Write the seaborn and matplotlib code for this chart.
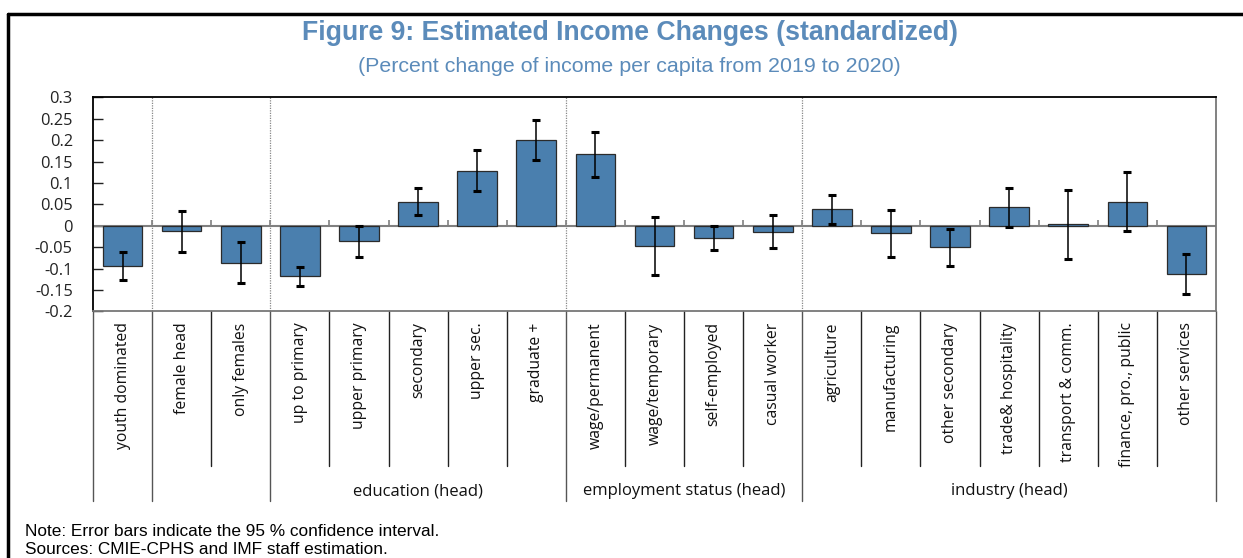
import numpy as np
import pandas as pd
import matplotlib
matplotlib.use("Agg")
import matplotlib.pyplot as plt
import matplotlib.transforms as mtransforms
from matplotlib.lines import Line2D
import seaborn as sns

# ---- data -----------------------------------------------------------------
categories = [
    "youth dominated", "female head", "only females",
    "up to primary", "upper primary", "secondary", "upper sec.", "graduate +",
    "wage/permanent", "wage/temporary", "self-employed", "casual worker",
    "agriculture", "manufacturing", "other secondary", "trade& hospitality",
    "transport & comm.", "finance, pro., public", "other services",
]
estimate = [-0.093, -0.013, -0.086,
            -0.118, -0.036, 0.055, 0.128, 0.201,
            0.167, -0.047, -0.028, -0.014,
            0.038, -0.018, -0.050, 0.043, 0.003, 0.056, -0.113]
ci_low = [-0.127, -0.061, -0.135,
          -0.141, -0.072, 0.026, 0.081, 0.154,
          0.114, -0.115, -0.056, -0.053,
          0.005, -0.072, -0.094, -0.003, -0.078, -0.012, -0.159]
ci_high = [-0.061, 0.035, -0.038,
           -0.096, 0.000, 0.087, 0.176, 0.248,
           0.220, 0.020, 0.000, 0.025,
           0.072, 0.036, -0.007, 0.087, 0.083, 0.125, -0.065]

group_names = ["", "", "education (head)", "employment status (head)", "industry (head)"]
group_sizes = [1, 2, 5, 4, 7]

y_ticks = [-0.2, -0.15, -0.1, -0.05, 0, 0.05, 0.1, 0.15, 0.2, 0.25, 0.3]

title = "Figure 9: Estimated Income Changes (standardized)"
subtitle = "(Percent change of income per capita from 2019 to 2020)"
note_lines = ["Note: Error bars indicate the 95 % confidence interval.",
              "Sources: CMIE-CPHS and IMF staff estimation."]

# ---- styling ----------------------------------------------------------------
sns.set_theme(style="white")
plt.rcParams["font.family"] = ["Open Sans", "DejaVu Sans"]

BAR = "#4a7fae"
TITLE_BLUE = "#5b8bba"
W, H = 1243, 558

df = pd.DataFrame({"category": categories, "estimate": estimate,
                   "low": ci_low, "high": ci_high})
n = len(categories)

fig = plt.figure(figsize=(W / 100, H / 100), dpi=100)
ax = fig.add_axes([93 / W, 1 - 311.3 / H, (1216 - 93) / W, (311.3 - 97.3) / H])

sns.barplot(data=df, x="category", y="estimate", order=categories, color=BAR,
            saturation=1, width=0.67, edgecolor="#2b2b2b", linewidth=0.9,
            errorbar=None, ax=ax, zorder=3)

est = df["estimate"].to_numpy()
yerr = np.vstack([est - df["low"].to_numpy(), df["high"].to_numpy() - est])
ax.errorbar(np.arange(n), est, yerr=yerr, fmt="none", ecolor="black",
            elinewidth=1.1, capsize=3.2, capthick=2.2, zorder=4)

ax.set_xlim(-0.5, n - 0.5)
ax.set_ylim(-0.2, 0.3)
ax.set_yticks(y_ticks)
ax.set_yticklabels([f"{v:g}" for v in y_ticks])
ax.tick_params(axis="y", direction="in", length=7, width=1, pad=14.5,
               labelsize=11.8, colors="#222222", left=True)
ax.set_xticks(range(n))
ax.set_xticklabels(categories, rotation=90, fontsize=11.3, color="#111111")
ax.tick_params(axis="x", length=0, pad=8)
ax.set_xlabel("")
ax.set_ylabel("")

for side in ("top", "left"):
    ax.spines[side].set_color("black")
    ax.spines[side].set_linewidth(1.3)
for side in ("right", "bottom"):
    ax.spines[side].set_color("#777777")
    ax.spines[side].set_linewidth(1.3)

# zero line with small boundary ticks
ax.axhline(0, color="#808080", lw=1.5, zorder=2)
bounds = np.arange(n + 1) - 0.5
ax.vlines(bounds[1:-1], 0, 0.013, color="#808080", lw=1.2, zorder=2)

# group separators: dotted inside the plot, solid in the label area
cuts = np.cumsum([0] + group_sizes) - 0.5
ax.vlines(cuts[1:-1], -0.2, 0.3, color="#888888", lw=0.9,
          linestyles=(0, (1, 1)), zorder=1)

trans = mtransforms.blended_transform_factory(ax.transData, ax.transAxes)
y_cat = -(466 - 311.3) / (311.3 - 97.3)
y_grp = -(501 - 311.3) / (311.3 - 97.3)
for b in bounds:
    full = b in cuts
    ax.plot([b, b], [0, y_grp if full else y_cat], transform=trans,
            color="#555555" if full else "#222222", lw=1.0, clip_on=False)

y_glabel = -(491 - 311.3) / (311.3 - 97.3)
for name, a, b in zip(group_names, cuts[:-1], cuts[1:]):
    if name:
        ax.text((a + b) / 2, y_glabel, name, transform=trans, ha="center",
                va="center", fontsize=12, color="#111111")

# frame, titles and notes
fig.add_artist(Line2D([8 / W, 1], [1 - 13.5 / H] * 2, color="black", lw=2.5))
fig.add_artist(Line2D([8 / W] * 2, [0, 1 - 13.5 / H], color="black", lw=2.5))

fig.text(630 / W, 1 - 33 / H, title, ha="center", va="center",
         family="Liberation Sans", fontsize=19.2, fontweight="bold",
         color=TITLE_BLUE)
fig.text(629 / W, 1 - 67 / H, subtitle, ha="center", va="center",
         family="Liberation Sans", fontsize=15.4, color=TITLE_BLUE)
for i, line in enumerate(note_lines):
    fig.text(25 / W, 1 - (531 + 18 * i) / H, line, ha="left", va="center",
             family="Liberation Sans", fontsize=12.4, color="black")

fig.savefig("out.png", dpi=100)
